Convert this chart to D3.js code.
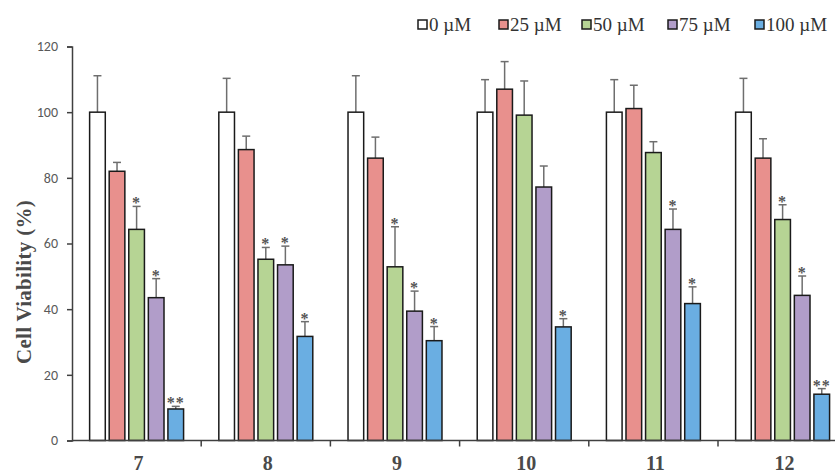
<!DOCTYPE html>
<html><head><meta charset="utf-8">
<script src="https://cdn.jsdelivr.net/npm/d3@7"></script>
<style>body{margin:0;background:#fff}svg{display:block}</style>
</head><body>
<svg id="c" width="835" height="473"></svg>
<script>
const categories = ["7","8","9","10","11","12"];
const seriesNames = ["0 µM","25 µM","50 µM","75 µM","100 µM"];
const colors = ["#ffffff","#e8908d","#b6d494","#b19dc9","#6aaee2"];
const values = [
  [100, 82.0, 64.3, 43.5, 9.6],
  [100, 88.6, 55.2, 53.5, 31.7],
  [100, 86.0, 52.9, 39.4, 30.4],
  [100, 107.0, 99.1, 77.2, 34.6],
  [100, 101.1, 87.7, 64.3, 41.7],
  [100, 86.0, 67.3, 44.2, 14.1]
];
const errTops = [
  [111.1, 84.7, 71.3, 49.3, 10.4],
  [110.3, 92.7, 58.8, 59.2, 36.2],
  [111.1, 92.4, 65.1, 45.5, 34.7],
  [109.9, 115.4, 109.5, 83.6, 37.1],
  [109.9, 108.2, 91.0, 70.5, 46.8],
  [110.3, 91.9, 71.8, 50.1, 15.8]
];
const marks = [
  ["", "", "*", "*", "**"],
  ["", "", "*", "*", "*"],
  ["", "", "*", "*", "*"],
  ["", "", "", "", "*"],
  ["", "", "", "*", "*"],
  ["", "", "*", "*", "**"]
];
const yTicks = [0,20,40,60,80,100,120];

const svg = d3.select("#c");
const x0 = d3.scaleBand().domain(categories).range([72, 72 + 6*129.2]).padding(0);
const x1 = d3.scaleBand().domain(d3.range(5)).range([0, x0.bandwidth()]).paddingInner(0.2).paddingOuter(0.9);
const y = d3.scaleLinear().domain([0,120]).range([440.5, 46.5]);

// y axis
const ya = svg.append("g").attr("transform","translate(72,0)")
  .call(d3.axisLeft(y).tickValues(yTicks).tickSize(5).tickPadding(9));
ya.select(".domain").attr("stroke","#404040").attr("stroke-width",1.5);
ya.selectAll(".tick line").attr("stroke","#404040").attr("stroke-width",1.5);
ya.selectAll(".tick text").attr("font-family","Carlito, 'Liberation Sans', sans-serif").attr("font-size",14).attr("fill","#595959");

// bars
const g = svg.append("g");
categories.forEach((c,i)=>{
  const gg = g.append("g").attr("transform",`translate(${x0(c)},0)`);
  values[i].forEach((v,j)=>{
    const cx = x1(j) + x1.bandwidth()/2;
    gg.append("line").attr("x1",cx).attr("x2",cx).attr("y1",y(v)).attr("y2",y(errTops[i][j]))
      .attr("stroke","#6e6e6e").attr("stroke-width",1.5);
    gg.append("line").attr("x1",cx-4).attr("x2",cx+4).attr("y1",y(errTops[i][j])).attr("y2",y(errTops[i][j]))
      .attr("stroke","#6e6e6e").attr("stroke-width",1.5);
    gg.append("rect").attr("x",x1(j)).attr("y",y(v)).attr("width",x1.bandwidth()).attr("height",y(0)-y(v))
      .attr("fill",colors[j]).attr("stroke","#1a1a1a").attr("stroke-width",1.5);
    if (marks[i][j]) {
      gg.append("text").attr("x",cx).attr("y",y(errTops[i][j])+2).attr("text-anchor","middle")
        .attr("font-family","'Liberation Serif', serif").attr("font-weight","bold").attr("font-size",16).attr("fill","#555")
        .attr("letter-spacing",1)
        .text(marks[i][j]);
    }
  });
});

// x axis
const xa = svg.append("g").attr("transform","translate(0,440.5)");
xa.append("line").attr("x1",72).attr("x2",835).attr("stroke","#404040").attr("stroke-width",1.5);
categories.forEach(c=>{
  const xr = x0(c) + x0.bandwidth();
  xa.append("line").attr("x1",xr).attr("x2",xr).attr("y1",0).attr("y2",6).attr("stroke","#404040").attr("stroke-width",1.5);
  xa.append("text").attr("x",x0(c)+x0.bandwidth()/2+2).attr("y",29).attr("text-anchor","middle")
    .attr("font-family","'Liberation Serif', serif").attr("font-weight","bold").attr("font-size",20).attr("fill","#4a4a4a")
    .text(c);
});

// y title
svg.append("text").attr("transform","translate(31,282) rotate(-90)").attr("text-anchor","middle")
  .attr("font-family","'Liberation Serif', serif").attr("font-weight","bold").attr("font-size",21).attr("fill","#4a4a4a")
  .attr("letter-spacing",0.3)
  .text("Cell Viability (%)");

// legend
const legX = [418, 499, 582, 668, 755];
seriesNames.forEach((s,j)=>{
  svg.append("rect").attr("x",legX[j]).attr("y",20).attr("width",9).attr("height",9)
    .attr("fill",colors[j]).attr("stroke","#1a1a1a").attr("stroke-width",1.5);
  svg.append("text").attr("x",legX[j]+11).attr("y",31).attr("font-family","'Liberation Serif', serif")
    .attr("font-size",19).attr("fill","#333").text(s);
});
</script>
</body></html>
